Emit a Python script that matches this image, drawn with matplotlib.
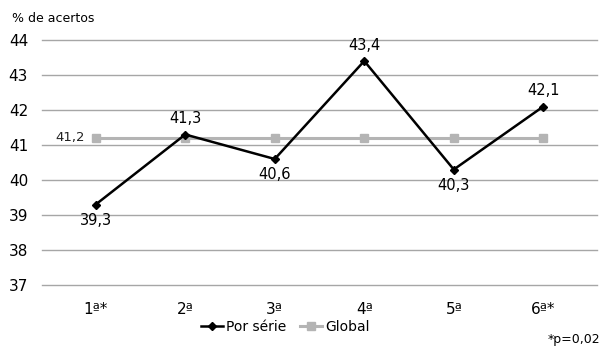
import matplotlib
matplotlib.use('Agg')
import matplotlib.pyplot as plt

# data
categories = ['1ª*', '2ª', '3ª', '4ª', '5ª', '6ª*']
por_serie = [39.3, 41.3, 40.6, 43.4, 40.3, 42.1]
global_vals = [41.2, 41.2, 41.2, 41.2, 41.2, 41.2]
label_pos = ['below', 'above', 'below', 'above', 'below', 'above']
yticks = [37, 38, 39, 40, 41, 42, 43, 44]

plt.rcParams['font.family'] = ['DejaVu Sans']

fig = plt.figure(figsize=(6.08, 3.5), dpi=100)
ax = fig.add_axes([42 / 608, 1 - 285 / 350, 555 / 608, 245 / 350])

x = list(range(len(categories)))
ax.plot(x, global_vals, color='#b4b4b4', lw=2.2, marker='s', ms=6,
        label='Global', zorder=2)
ax.plot(x, por_serie, color='black', lw=1.8, marker='D', ms=4.5,
        label='Por série', zorder=3)

for xi, v, p in zip(x, por_serie, label_pos):
    txt = f'{v:.1f}'.replace('.', ',')
    if p == 'above':
        ax.annotate(txt, (xi, v), xytext=(0, 6), textcoords='offset points',
                    ha='center', va='bottom', fontsize=10.5)
    else:
        ax.annotate(txt, (xi, v), xytext=(0, -6), textcoords='offset points',
                    ha='center', va='top', fontsize=10.5)

ax.annotate(f'{global_vals[0]:.1f}'.replace('.', ','), (x[0], global_vals[0]),
            xytext=(-8, 0), textcoords='offset points', ha='right',
            va='center', fontsize=9.5, color='#222222')

ax.set_xlim(-0.6, len(categories) - 0.4)
ax.set_ylim(37, 44)
ax.set_yticks(yticks)
ax.set_xticks(x)
ax.set_xticklabels(categories)
ax.tick_params(axis='both', length=0, labelsize=11)
ax.tick_params(axis='y', pad=10)
ax.tick_params(axis='x', pad=12)
ax.grid(axis='y', color='#a6a6a6', lw=1)
for gl in ax.yaxis.get_gridlines():
    gl.set_clip_on(False)
ax.set_axisbelow(True)
for s in ax.spines.values():
    s.set_visible(False)

fig.text(12 / 608, 1 - 18 / 350, '% de acertos', fontsize=9, va='center')
fig.text(600 / 608, 1 - 340 / 350, '*p=0,02', fontsize=9, ha='right',
         va='center')

handles, labels = ax.get_legend_handles_labels()
fig.legend(handles[::-1], labels[::-1], loc='center',
           bbox_to_anchor=(285 / 608, 1 - 327 / 350), ncol=2, frameon=False,
           fontsize=10, handlelength=1.6, handletextpad=0.2,
           columnspacing=1.0, borderpad=0)

fig.savefig('out.png', dpi=100)
